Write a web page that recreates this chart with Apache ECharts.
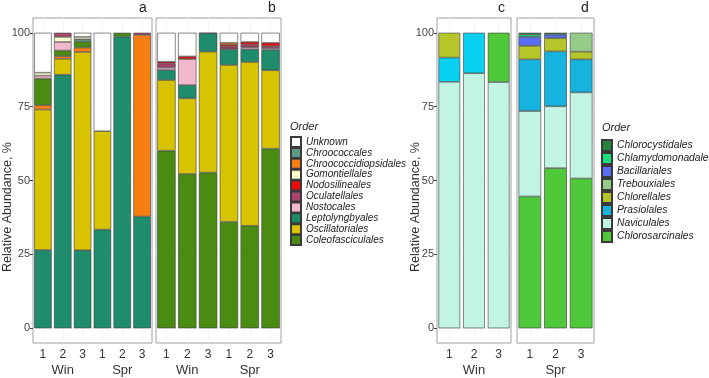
<!DOCTYPE html>
<html>
<head>
<meta charset="utf-8">
<script src="https://cdn.jsdelivr.net/npm/echarts@6/dist/echarts.min.js"></script>
<style>
  html, body { margin: 0; background: #fff; }
  #chart { width: 709px; height: 378px; }
</style>
</head>
<body>
<div id="chart"></div>
<script>
const seasons = ["Win", "Spr"];
const reps = ["1", "2", "3"];
const yTicks = [0, 25, 50, 75, 100];

// legend order (top to bottom)
const cyanoOrders = ["Unknown", "Chroococcales", "Chroococcidiopsidales", "Gomontiellales", "Nodosilineales",
  "Oculatellales", "Nostocales", "Leptolyngbyales", "Oscillatoriales", "Coleofasciculales"];
const algaeOrders = ["Chlorocystidales", "Chlamydomonadales", "Bacillariales", "Trebouxiales",
  "Chlorellales", "Prasiolales", "Naviculales", "Chlorosarcinales"];

// relative abundance, %; samples Win 1-3, Spr 1-3; keys listed bottom -> top of stack
const panelA = {
  Leptolyngbyales:       [26.5, 85.8, 26.4, 33.4, 98.7, 37.8],
  Oscillatoriales:       [47.5, 5.4, 67.1, 33.3, 0, 0],
  Chroococcidiopsidales: [1.5, 0.9, 1.5, 0, 0, 61.5],
  Coleofasciculales:     [9.0, 1.9, 2.0, 0, 1.3, 0],
  Chroococcales:         [0, 0, 0.8, 0, 0, 0],
  Nostocales:            [1.0, 2.9, 0, 0, 0, 0],
  Gomontiellales:        [1.0, 1.7, 0.8, 0, 0, 0],
  Oculatellales:         [0, 1.4, 0, 0, 0, 0.7],
  Unknown:               [13.5, 0, 1.4, 33.3, 0, 0]
};

const panelB = {
  Coleofasciculales:     [60.1, 52.2, 52.7, 36.0, 34.7, 60.8],
  Oscillatoriales:       [23.9, 25.6, 40.9, 53.1, 55.4, 26.5],
  Leptolyngbyales:       [3.4, 4.5, 6.2, 5.3, 4.3, 6.9],
  Nostocales:            [0.8, 8.8, 0, 0, 0.7, 0.6],
  Oculatellales:         [1.4, 0, 0, 0.9, 0.9, 0.7],
  Nodosilineales:        [0.6, 0.9, 0, 0.6, 0.9, 1.1],
  Chroococcidiopsidales: [0, 0, 0, 0.7, 0, 0],
  Unknown:               [9.8, 8.0, 0.2, 3.4, 3.1, 3.4]
};

// Win 1-3
const panelC = {
  Naviculales:      [83.4, 86.3, 83.3],
  Prasiolales:      [8.2, 13.7, 0],
  Chlorellales:     [8.4, 0, 0],
  Chlorosarcinales: [0, 0, 16.7]
};

// Spr 1-3
const panelD = {
  Chlorosarcinales:  [44.6, 54.2, 50.7],
  Naviculales:       [28.9, 20.9, 29.1],
  Prasiolales:       [17.5, 18.6, 11.2],
  Chlorellales:      [4.6, 4.5, 2.6],
  Trebouxiales:      [0, 0, 6.4],
  Bacillariales:     [3.0, 1.2, 0],
  Chlamydomonadales: [0.8, 0, 0],
  Chlorocystidales:  [0.6, 0.6, 0]
};

const colors = {
  Unknown: "#ffffff",
  Chroococcales: "#5e9a86",
  Chroococcidiopsidales: "#f77f12",
  Gomontiellales: "#fdfccc",
  Nodosilineales: "#ee0a0a",
  Oculatellales: "#a8446c",
  Nostocales: "#f2b8cc",
  Leptolyngbyales: "#1f8d6c",
  Oscillatoriales: "#d7c300",
  Coleofasciculales: "#4a8c12",
  Chlorocystidales: "#23843c",
  Chlamydomonadales: "#19e07c",
  Bacillariales: "#5a6ef2",
  Trebouxiales: "#96cc8a",
  Chlorellales: "#b6c52a",
  Prasiolales: "#15b3dd",
  Naviculales: "#c2f4e4",
  Chlorosarcinales: "#4fc93a"
};
// panel c uses a brighter cyan
const panelCColors = { Prasiolales: "#08d0f0" };

const FONT = "'Liberation Sans', Arial, sans-serif";
const TOP = 18, BOTTOM = 345;

const allCats = [];
seasons.forEach((s) => reps.forEach((r) => allCats.push(s + " " + r)));

// order matters: d before c so the legend takes d's colours
const panels = [
  { id: "a", x0: 33, x1: 152, cats: allCats, data: panelA, showY: true },
  { id: "b", x0: 156, x1: 281, cats: allCats, data: panelB, showY: false },
  { id: "d", x0: 517, x1: 594, cats: reps.map((r) => "Spr " + r), data: panelD, showY: false },
  { id: "c", x0: 437, x1: 511, cats: reps.map((r) => "Win " + r), data: panelC, showY: true, colors: panelCColors }
];

const grid = [], xAxis = [], yAxis = [], series = [], graphic = [];

panels.forEach((p, i) => {
  grid.push({
    left: p.x0, top: TOP, width: p.x1 - p.x0, height: BOTTOM - TOP,
    show: true, borderColor: "#a0a0a0", borderWidth: 1, backgroundColor: "#fff"
  });

  xAxis.push({
    type: "category", gridIndex: i, data: p.cats, position: "bottom",
    axisLine: { show: false },
    axisTick: { alignWithLabel: true, length: 3, lineStyle: { color: "#444" } },
    splitLine: { show: true, alignWithLabel: true, lineStyle: { color: "#efefef", width: 0.6 } },
    axisLabel: {
      interval: 0, margin: 5, fontSize: 12, lineHeight: 14, color: "#333", fontFamily: FONT,
      formatter: (v) => {
        const [s, r] = v.split(" ");
        return r === "2" ? r + "\n{g|" + s + "}" : r;
      },
      rich: { g: { fontSize: 13, lineHeight: 16, color: "#333", fontFamily: FONT } }
    }
  });

  yAxis.push({
    type: "value", gridIndex: i, min: -5, max: 105,
    axisLine: { show: false },
    axisTick: { show: p.showY, customValues: yTicks, length: 3, lineStyle: { color: "#444" } },
    axisLabel: { show: p.showY, customValues: yTicks, margin: 3, fontSize: 11, color: "#444", fontFamily: FONT },
    splitLine: { show: true, lineStyle: { color: "#efefef", width: 0.6 } }
  });

  Object.keys(p.data).forEach((name) => {
    const c = (p.colors && p.colors[name]) || colors[name];
    series.push({
      type: "bar", name: name, xAxisIndex: i, yAxisIndex: i, stack: "s" + p.id,
      barCategoryGap: "12%",
      data: p.data[name].map((v) => (v > 0 ? v : null)),
      itemStyle: { color: c, borderColor: "#3a3a3a", borderWidth: 0.6 },
      emphasis: { disabled: true }
    });
  });

  graphic.push({
    type: "text", left: p.x1 - 13, top: 1,
    style: { text: p.id, fontSize: 14, fill: "#222", fontFamily: FONT }
  });
});

// y-axis titles
[8, 416].forEach((x) => {
  graphic.push({
    type: "text", x: x, y: 207, rotation: Math.PI / 2,
    style: {
      text: "Relative Abundance, %", fontSize: 12.5, fill: "#333", fontFamily: FONT,
      align: "center", verticalAlign: "middle"
    }
  });
});

// legend titles
[[290, 127], [602, 128]].forEach(([x, y]) => {
  graphic.push({
    type: "text", x: x, y: y,
    style: { text: "Order", fontSize: 11, fontStyle: "italic", fill: "#222", fontFamily: FONT, verticalAlign: "middle" }
  });
});

const chart = echarts.init(document.getElementById("chart"));
chart.setOption({
  animation: false,
  backgroundColor: "#fff",
  grid: grid,
  xAxis: xAxis,
  yAxis: yAxis,
  series: series,
  graphic: graphic,
  legend: [
    {
      data: cyanoOrders, orient: "vertical", left: 290, top: 136, padding: 0,
      icon: "rect", itemWidth: 10, itemHeight: 10, itemGap: -1.1, selectedMode: false,
      textStyle: { fontSize: 10, lineHeight: 10.9, fontStyle: "italic", color: "#222", fontFamily: FONT }
    },
    {
      data: algaeOrders, orient: "vertical", left: 601, top: 139, padding: 0,
      icon: "rect", itemWidth: 10, itemHeight: 11, itemGap: 0, selectedMode: false,
      textStyle: { fontSize: 10.3, lineHeight: 12.9, fontStyle: "italic", color: "#222", fontFamily: FONT }
    }
  ]
});
</script>
</body>
</html>
